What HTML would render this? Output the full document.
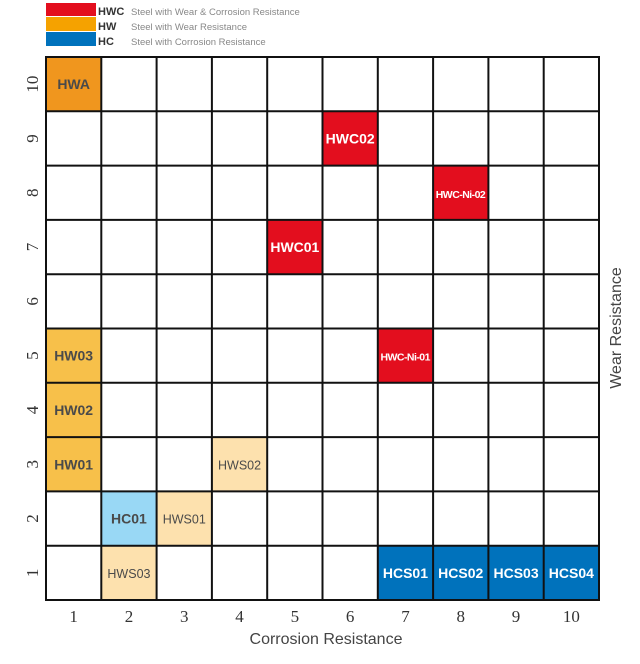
<!DOCTYPE html>
<html><head><meta charset="utf-8"><style>
html,body{margin:0;padding:0;background:#fff;width:640px;height:664px;overflow:hidden}
svg{display:block}
</style></head><body>
<svg id="chart" width="640" height="664" xmlns="http://www.w3.org/2000/svg">
<g font-family="Liberation Sans, sans-serif">
<rect x="46" y="3" width="50" height="13" fill="#e30e1e"/>
<rect x="46" y="17" width="50" height="14" fill="#f5a200"/>
<rect x="46" y="32" width="50" height="14" fill="#0072bc"/>
<text x="98" y="15" font-size="11" font-weight="bold" fill="#333">HWC</text>
<text x="98" y="30" font-size="11" font-weight="bold" fill="#333">HW</text>
<text x="98" y="45" font-size="11" font-weight="bold" fill="#333">HC</text>
<text x="131" y="15" font-size="9.5" fill="#888">Steel with Wear &amp; Corrosion Resistance</text>
<text x="131" y="30" font-size="9.5" fill="#888">Steel with Wear Resistance</text>
<text x="131" y="45" font-size="9.5" fill="#888">Steel with Corrosion Resistance</text>
</g>
<g id="cells"></g>
<g id="grid"></g>
<g id="ticks"></g>
<text x="326" y="644" text-anchor="middle" font-family="Liberation Sans, sans-serif" font-size="16" fill="#444">Corrosion Resistance</text>
<text transform="translate(621,328) rotate(-90)" text-anchor="middle" font-family="Liberation Sans, sans-serif" font-size="16" fill="#444">Wear Resistance</text>
</svg>
<script>
const xTicks = [1,2,3,4,5,6,7,8,9,10];
const yTicks = [1,2,3,4,5,6,7,8,9,10];
const gradeNames = ["HWA","HWC02","HWC-Ni-02","HWC01","HWC-Ni-01","HW03","HW02","HW01","HWS02","HC01","HWS01","HWS03","HCS01","HCS02","HCS03","HCS04"];
const gradeX = [1,6,8,5,7,1,1,1,4,2,3,2,7,8,9,10];
const gradeY = [10,9,8,7,5,5,4,3,3,2,2,1,1,1,1,1];
const gradeType = ["HWA","HWC","HWC","HWC","HWC","HW","HW","HW","HWS","HC1","HWS","HWS","HC","HC","HC","HC"];
const fills = {HWA:"#f0961e",HWC:"#e30e1e",HW:"#f7c04a",HWS:"#fde1ae",HC1:"#99d8f5",HC:"#0072bc"};
const textCol = {HWA:"#4a4a4a",HWC:"#fff",HW:"#4a4a4a",HWS:"#4a4a4a",HC1:"#4a4a4a",HC:"#fff"};
const L=46,R=599,T=57,B=600;
const cw=(R-L)/xTicks.length, ch=(B-T)/yTicks.length;
const xs=v=>L+(v-1)*cw;
const ys=v=>B-v*ch;
const NS="http://www.w3.org/2000/svg";
const cells=document.getElementById('cells'),grid=document.getElementById('grid'),ticks=document.getElementById('ticks');
gradeNames.forEach((n,i)=>{
  const r=document.createElementNS(NS,'rect');
  r.setAttribute('x',xs(gradeX[i]));r.setAttribute('y',ys(gradeY[i]));
  r.setAttribute('width',cw);r.setAttribute('height',ch);
  r.setAttribute('fill',fills[gradeType[i]]);
  
  
  cells.appendChild(r);
  const t=document.createElementNS(NS,'text');
  t.setAttribute('x',xs(gradeX[i])+cw/2);t.setAttribute('y',ys(gradeY[i])+ch/2+5);
  t.setAttribute('text-anchor','middle');
  t.setAttribute('font-family','Liberation Sans, sans-serif');
  const small=n.indexOf('Ni')>=0;
  t.setAttribute('font-size',small?10.5:(gradeType[i]==='HWS'?12.5:14));
  t.setAttribute('font-weight',gradeType[i]==='HWS'?'normal':'bold');
  if(small) t.setAttribute('textLength','50');
  t.setAttribute('fill',textCol[gradeType[i]]);
  t.textContent=n;
  
  
  cells.appendChild(t);
});
for(let i=0;i<=xTicks.length;i++){
  const l=document.createElementNS(NS,'line');
  const x=L+i*cw;
  l.setAttribute('x1',x);l.setAttribute('x2',x);l.setAttribute('y1',T);l.setAttribute('y2',B);
  l.setAttribute('stroke','#111');l.setAttribute('stroke-width','2');
  
  
  grid.appendChild(l);
}
for(let i=0;i<=yTicks.length;i++){
  const l=document.createElementNS(NS,'line');
  const y=T+i*ch;
  l.setAttribute('x1',L-1);l.setAttribute('x2',R+1);l.setAttribute('y1',y);l.setAttribute('y2',y);
  l.setAttribute('stroke','#111');l.setAttribute('stroke-width','2');
  
  
  grid.appendChild(l);
}
xTicks.forEach(v=>{
  const t=document.createElementNS(NS,'text');
  t.setAttribute('x',xs(v)+cw/2);t.setAttribute('y',622);
  t.setAttribute('text-anchor','middle');t.setAttribute('font-family','Liberation Serif, serif');
  t.setAttribute('font-size','17');t.setAttribute('fill','#333');
  t.textContent=v;
  
  
  ticks.appendChild(t);
});
yTicks.forEach(v=>{
  const t=document.createElementNS(NS,'text');
  const cy=ys(v)+ch/2;
  t.setAttribute('transform','translate(38,'+cy+') rotate(-90)');
  t.setAttribute('text-anchor','middle');t.setAttribute('font-family','Liberation Serif, serif');
  t.setAttribute('font-size','17');t.setAttribute('fill','#333');
  t.textContent=v;
  
  
  ticks.appendChild(t);
});
</script>
</body></html>
